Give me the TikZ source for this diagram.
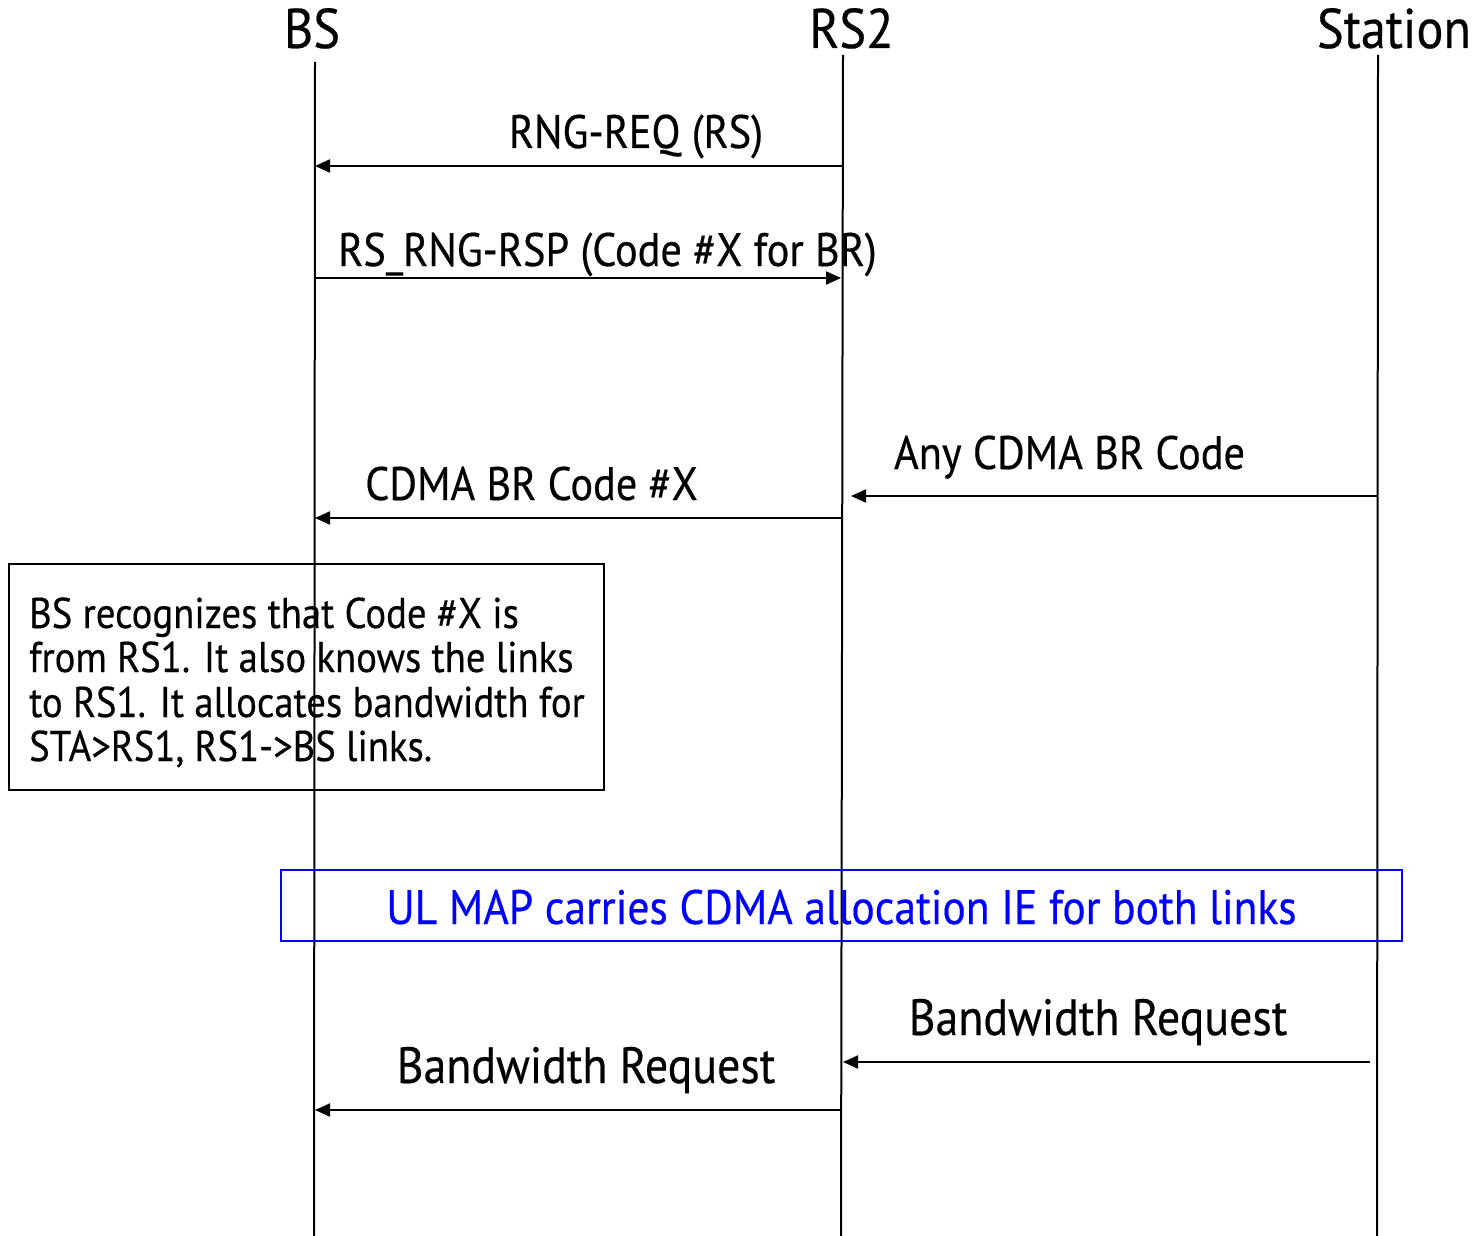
\documentclass[tikz,border=0pt]{standalone}
\usepackage{fontspec}
\setmainfont[FakeStretch=0.9,FakeBold=0.4]{PT Sans}
\usetikzlibrary{arrows.meta}
\begin{document}
\begin{tikzpicture}[x=1pt,y=-1pt,
 life/.style={line width=2pt},
 msg/.style={line width=2pt,-{Triangle[length=15pt,width=13pt]}},
 lbl/.style={anchor=base,inner sep=0pt,font=\fontsize{47}{52}\selectfont},
 bwlbl/.style={anchor=base,inner sep=0pt,font=\fontsize{51}{56}\selectfont},
 head/.style={anchor=base,inner sep=0pt,font=\fontsize{56}{62}\selectfont},
 note/.style={anchor=base west,inner sep=0pt,font=\fontsize{43}{47}\selectfont},
 ultext/.style={anchor=base,inner sep=0pt,text=blue,font=\fontsize{48.4}{52}\selectfont}]
\useasboundingbox (0,0) rectangle (1475,1236);
% headers
\node[head] (hBS) at (312,48) {BS};
\node[head] (hRS) at (851.5,48) {RS2};
\node[head] (hST) at (1394,48) {Station};
% lifelines
\coordinate (bsT) at (315,62);  \coordinate (bsB) at (314,1236);
\coordinate (rsT) at (843,55);  \coordinate (rsB) at (841,1236);
\coordinate (stT) at (1378,55); \coordinate (stB) at (1377,1236);
\draw[life] (bsT) -- (bsB);
\draw[life] (rsT) -- (rsB);
\draw[life] (stT) -- (stB);
% messages
\coordinate (m1s) at (843,166); \coordinate (m1e) at (315,166);
\draw[msg] (m1s) -- (m1e);
\node[lbl] (l1) at (636,148) {RNG-REQ (RS)};
\coordinate (m2s) at (315,278); \coordinate (m2e) at (841,278);
\draw[msg] (m2s) -- (m2e);
\node[lbl] (l2) at (607.5,266) {RS\_RNG-RSP (Code \#X for BR)};
\coordinate (m3s) at (1378,496); \coordinate (m3e) at (851,496);
\draw[msg] (m3s) -- (m3e);
\node[lbl] (l3) at (1069.5,469) {Any CDMA BR Code};
\coordinate (m4s) at (843,518); \coordinate (m4e) at (315,518);
\draw[msg] (m4s) -- (m4e);
\node[lbl] (l4) at (531.5,500) {CDMA BR Code \#X};
% note box
\draw[line width=2pt] (9,564) rectangle (604,790);
\node[note] (n1) at (29,628) {BS recognizes that Code \#X is};
\node[note] (n2) at (29,672) {from RS1. It also knows the links};
\node[note] (n3) at (29,717) {to RS1. It allocates bandwidth for};
\node[note] (n4) at (29,761) {STA>RS1, RS1->BS links.};
% blue box
\draw[draw=blue,line width=2pt] (281,870) rectangle (1402,941);
\node[ultext] (ul) at (841.5,924) {UL MAP carries CDMA allocation IE for both links};
% bandwidth requests
\coordinate (m5s) at (1370,1062); \coordinate (m5e) at (843,1062);
\draw[msg] (m5s) -- (m5e);
\node[bwlbl] (l5) at (1098,1035) {Bandwidth Request};
\coordinate (m6s) at (841,1110); \coordinate (m6e) at (315,1110);
\draw[msg] (m6s) -- (m6e);
\node[bwlbl] (l6) at (586,1083) {Bandwidth Request};
\end{tikzpicture}
\end{document}
